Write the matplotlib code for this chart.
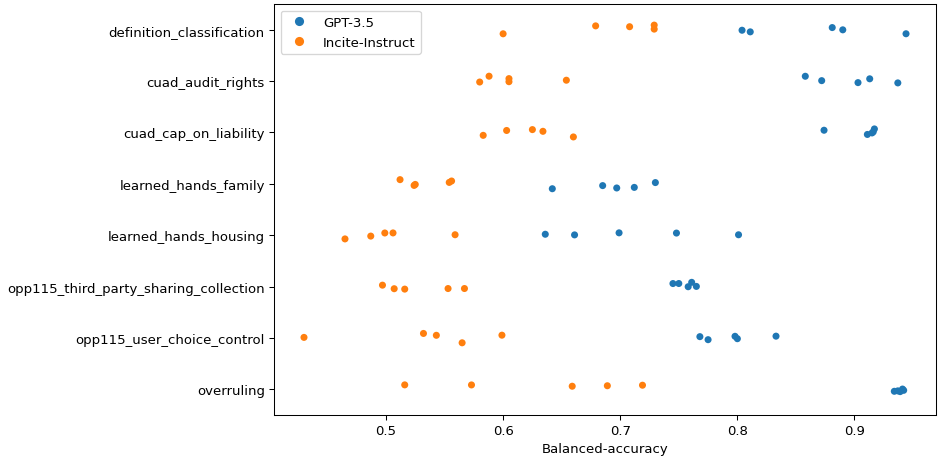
import numpy as np
import pandas as pd
import seaborn as sns
import matplotlib
matplotlib.use("Agg")
import matplotlib.pyplot as plt

# 과제 목록 (위에서 아래 순서)
tasks = [
    "definition_classification",
    "cuad_audit_rights",
    "cuad_cap_on_liability",
    "learned_hands_family",
    "learned_hands_housing",
    "opp115_third_party_sharing_collection",
    "opp115_user_choice_control",
    "overruling",
]
models = ["GPT-3.5", "Incite-Instruct"]

# 과제별 점수 (프롬프트 5개씩)
gpt35_scores = [
    [0.804, 0.811, 0.881, 0.890, 0.944],
    [0.858, 0.872, 0.903, 0.913, 0.937],
    [0.874, 0.911, 0.916, 0.917, 0.915],
    [0.642, 0.685, 0.697, 0.712, 0.730],
    [0.636, 0.661, 0.699, 0.748, 0.801],
    [0.745, 0.750, 0.758, 0.761, 0.765],
    [0.768, 0.775, 0.798, 0.800, 0.833],
    [0.934, 0.937, 0.939, 0.941, 0.942],
]
incite_scores = [
    [0.600, 0.679, 0.708, 0.729, 0.729],
    [0.580, 0.588, 0.605, 0.605, 0.654],
    [0.583, 0.603, 0.625, 0.634, 0.660],
    [0.512, 0.524, 0.525, 0.554, 0.556],
    [0.465, 0.487, 0.499, 0.506, 0.559],
    [0.497, 0.507, 0.516, 0.553, 0.567],
    [0.430, 0.532, 0.543, 0.565, 0.599],
    [0.516, 0.573, 0.659, 0.689, 0.719],
]

rows = []
for model, scores in zip(models, [gpt35_scores, incite_scores]):
    for task, vals in zip(tasks, scores):
        for v in vals:
            rows.append({"task": task, "model": model, "score": v})
df = pd.DataFrame(rows)

plt.rcParams["font.size"] = 10.2

np.random.seed(3)
fig, ax = plt.subplots(figsize=(10, 4.872), dpi=93.8)
sns.stripplot(data=df, x="score", y="task", hue="model", order=tasks,
              hue_order=models, size=5.4, ax=ax)
ax.set_xlabel("Balanced-accuracy")
ax.set_ylabel("")
ax.legend(loc="upper left", markerscale=1.3)
fig.subplots_adjust(left=0.292, right=0.998, top=0.989, bottom=0.0897)
fig.savefig("out.png", dpi=93.8)
